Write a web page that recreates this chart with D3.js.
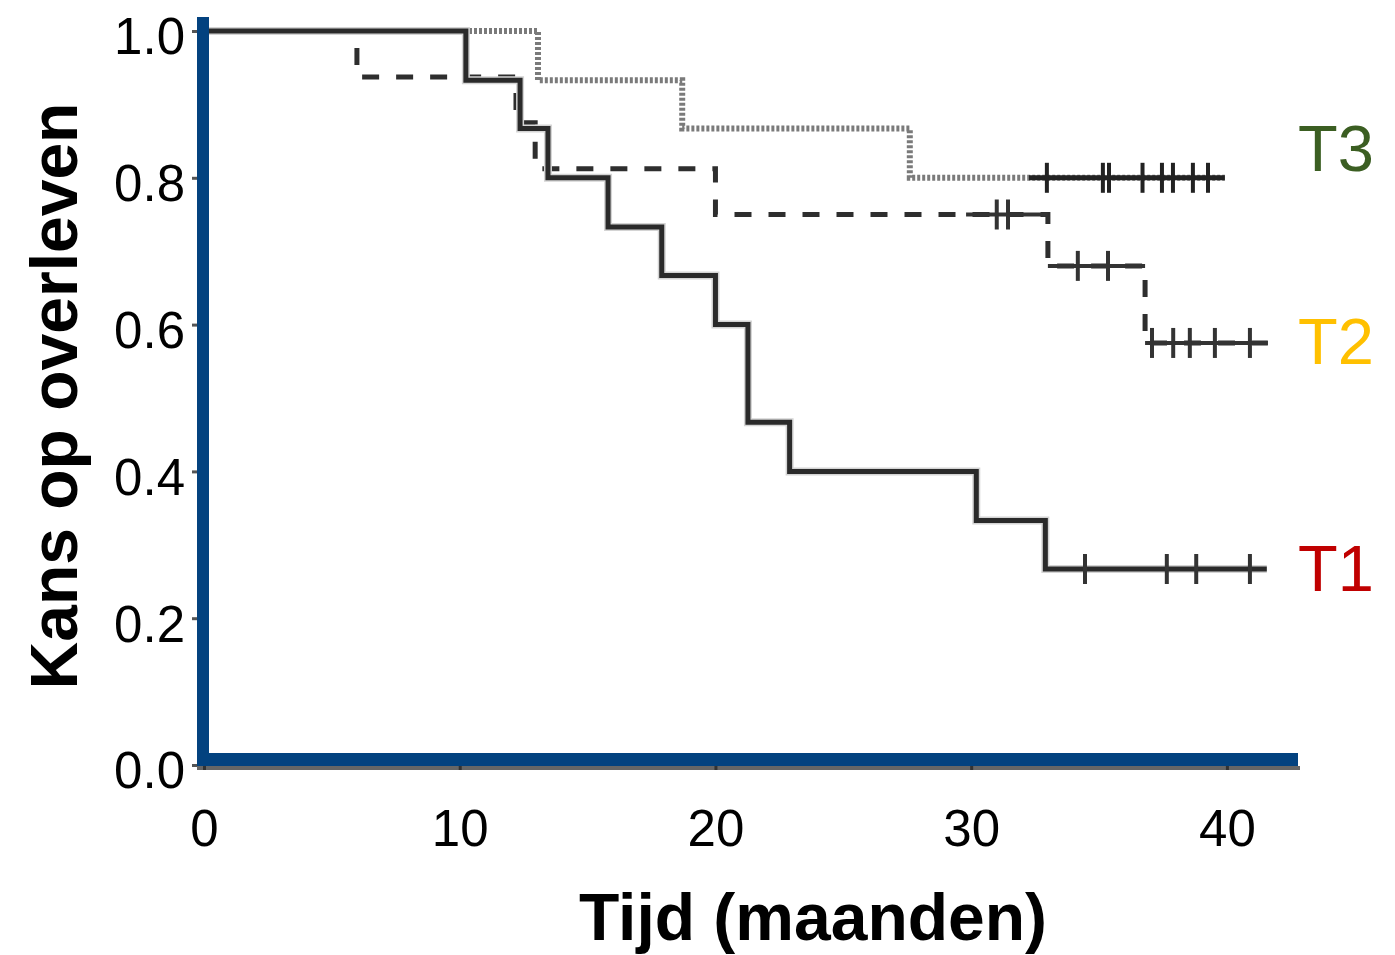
<!DOCTYPE html>
<html>
<head>
<meta charset="utf-8">
<script src="https://cdn.jsdelivr.net/npm/d3@7/dist/d3.min.js"></script>
<style>
  html, body { margin: 0; padding: 0; background: #fff; }
  svg { display: block; font-family: "Liberation Sans", Arial, sans-serif; }
</style>
</head>
<body>
<svg id="chart" width="1395" height="955"></svg>
<script>
// ---- data ----
const xTicks = [0, 10, 20, 30, 40];
const yTicks = [0, 0.2, 0.4, 0.6, 0.8, 1.0];
const groups = ["T1", "T2", "T3"];
const groupColors = ["#c00000", "#ffc000", "#3b5e22"];

const t1Times = [0, 10.24, 12.36, 13.45, 15.8, 17.9, 20.0, 21.27, 22.9, 30.2, 32.9, 41.56];
const t1Surv  = [1, 0.933, 0.867, 0.8, 0.733, 0.667, 0.6, 0.467, 0.4, 0.333, 0.267, 0.267];
const t1Censor = [34.45, 37.65, 38.8, 40.9];

const t2Times = [0, 5.98, 12.2, 12.95, 20.0, 33.0, 36.8, 41.6];
const t2Surv  = [1, 0.9375, 0.875, 0.8125, 0.75, 0.68, 0.575, 0.575];
const t2Censor = [31.0, 31.44, 34.17, 35.35, 37.07, 37.9, 38.55, 39.53, 40.9];

const t3Times = [0, 13.06, 18.7, 27.6, 39.92];
const t3Surv  = [1, 0.933, 0.867, 0.8, 0.8];
const t3Censor = [32.96, 35.15, 35.39, 36.7, 37.46, 37.89, 38.67, 39.26];

const xMax = 42.78;

// ---- scales ----
const svg = d3.select("#chart");
svg.append("rect").attr("width", 1395).attr("height", 955).attr("fill", "#fff");

const x = d3.scaleLinear().domain([0, xMax]).range([204, 1298]);
const y = d3.scaleLinear().domain([0, 1]).range([765, 31]);

const axisColor = "#03427f";
const x0 = x(0), yBase = y(0);

function survAt(times, surv, t) {
  let v = surv[0];
  for (let i = 0; i < times.length; i++) { if (times[i] <= t) v = surv[i]; }
  return v;
}

const line = d3.line().x(d => x(d[0])).y(d => y(d[1])).curve(d3.curveStepAfter);

function drawCurve(times, surv, censor, style) {
  const pts = times.map((t, i) => [t, surv[i]]);
  if (style.halo) {
    svg.append("path")
      .attr("d", line(pts))
      .attr("fill", "none")
      .attr("stroke", style.halo)
      .attr("stroke-width", style.width + 3);
  }
  svg.append("path")
    .attr("d", line(pts))
    .attr("fill", "none")
    .attr("stroke", style.color)
    .attr("stroke-width", style.width)
    .attr("stroke-dasharray", style.dash || null)
    .attr("stroke-linejoin", "miter");
  if (style.solidAfterCensor) {
    // horizontal pieces after the first censoring are drawn solid (as in the scan)
    const tc = censor[0] - style.solidLead;
    const segs = [];
    for (let i = 0; i < times.length - 1; i++) {
      const a = Math.max(times[i], tc), b = times[i + 1];
      if (b > a) segs.push([[a, surv[i]], [b, surv[i]]]);
    }
    svg.append("g").selectAll("line").data(segs).join("line")
      .attr("x1", d => x(d[0][0])).attr("x2", d => x(d[1][0]))
      .attr("y1", d => y(d[0][1])).attr("y2", d => y(d[1][1]))
      .attr("stroke", style.censorColor)
      .attr("stroke-width", style.width - 1);
  }
  svg.append("g").selectAll("line").data(censor).join("line")
    .attr("x1", d => x(d)).attr("x2", d => x(d))
    .attr("y1", d => y(survAt(times, surv, d)) - 15)
    .attr("y2", d => y(survAt(times, surv, d)) + 15)
    .attr("stroke", style.censorColor)
    .attr("stroke-width", 4);
}

drawCurve(t3Times, t3Surv, t3Censor, {color: "#7a7a7a", width: 6, dash: "3,2", censorColor: "#222", solidAfterCensor: true, solidLead: 0.7});
drawCurve(t2Times, t2Surv, t2Censor, {color: "#2e2e2e", width: 5, dash: "17,17", censorColor: "#333", solidAfterCensor: true, solidLead: 1.2});
drawCurve(t1Times, t1Surv, t1Censor, {color: "#2a2a2a", width: 5, censorColor: "#333", halo: "#d4d4d4"});

// ---- axes ----
// gray underline of bottom axis
svg.append("rect")
  .attr("x", x0 - 7).attr("y", yBase + 1)
  .attr("width", x(xMax) - x0 + 9).attr("height", 4)
  .attr("fill", "#666");

const yAxis = d3.axisLeft(y).tickValues(yTicks).tickFormat(d3.format(".1f")).tickSize(5).tickPadding(7);
const gy = svg.append("g").attr("transform", `translate(${x0 - 7},0)`).call(yAxis);
gy.select(".domain").remove();
gy.selectAll(".tick line").attr("stroke", "#555").attr("stroke-width", 3);
gy.selectAll(".tick text")
  .attr("font-size", 51).attr("fill", "#000")
  .attr("font-family", "'Liberation Sans', Arial, sans-serif")
  .attr("dy", "0.45em");

const xAxis = d3.axisBottom(x).tickValues(xTicks).tickFormat(d3.format("d")).tickSize(4).tickPadding(0);
const gx = svg.append("g").attr("transform", `translate(0,${yBase + 1})`).call(xAxis);
gx.select(".domain").remove();
gx.selectAll(".tick line").attr("stroke", "#333").attr("stroke-width", 3);
gx.selectAll(".tick text")
  .attr("font-size", 51).attr("fill", "#000")
  .attr("font-family", "'Liberation Sans', Arial, sans-serif")
  .attr("y", 80).attr("dy", null);

// blue axis lines
svg.append("rect")
  .attr("x", x0 - 7).attr("y", y(1) - 14)
  .attr("width", 12).attr("height", yBase - y(1) + 15)
  .attr("fill", axisColor);
svg.append("rect")
  .attr("x", x0 - 7).attr("y", yBase - 12)
  .attr("width", x(xMax) - x0 + 7).attr("height", 13)
  .attr("fill", axisColor);

// ---- group labels ----
svg.append("g").selectAll("text").data(groups).join("text")
  .attr("x", 1298)
  .attr("y", (d, i) => [591, 364, 171][i])
  .attr("font-size", 65)
  .attr("fill", (d, i) => groupColors[i])
  .text(d => d);

// ---- axis titles ----
svg.append("text")
  .attr("x", 813).attr("y", 940)
  .attr("text-anchor", "middle")
  .attr("font-size", 66).attr("font-weight", "bold")
  .attr("fill", "#000")
  .text("Tijd (maanden)");

svg.append("text")
  .attr("transform", "translate(77,396) rotate(-90)")
  .attr("text-anchor", "middle")
  .attr("font-size", 66).attr("font-weight", "bold")
  .attr("fill", "#000")
  .text("Kans op overleven");
</script>
</body>
</html>
